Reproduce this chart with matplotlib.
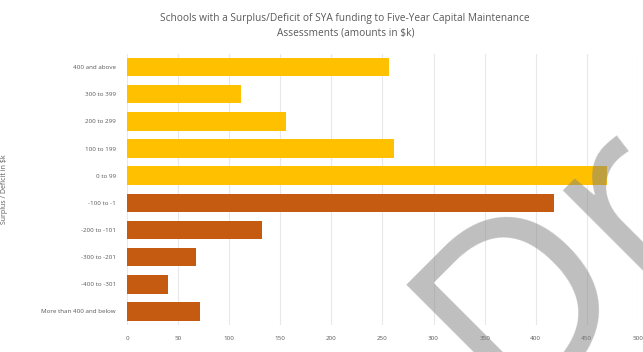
import matplotlib.pyplot as plt

# surplus/deficit bands, top to bottom
categories = ['400 and above', '300 to 399', '200 to 299', '100 to 199', '0 to 99',
              '-100 to -1', '-200 to -101', '-300 to -201', '-400 to -301',
              'More than 400 and below']
counts = [256, 112, 156, 261, 470, 418, 132, 68, 40, 71]
surplus = [True, True, True, True, True, False, False, False, False, False]
xticks = [0, 50, 100, 150, 200, 250, 300, 350, 400, 450, 500]

plt.rcParams['font.family'] = ['Open Sans', 'DejaVu Sans']

fig = plt.figure(figsize=(6.43, 3.52), dpi=100)
ax = fig.add_axes([0.1975, 0.0767, 0.7945, 0.7713])

colors = ['#FFC000' if s else '#C55A11' for s in surplus]
y = list(range(len(categories)))
ax.barh(y, counts, height=0.68, color=colors, zorder=3)
ax.set_ylim(len(categories) - 0.5, -0.5)
ax.set_yticks(y)
ax.set_yticklabels(categories, fontsize=4.5, color='#595959')
ax.set_xlim(0, 500)
ax.set_xticks(xticks)
ax.set_xticklabels([str(t) for t in xticks], fontsize=4.5, color='#595959')
ax.tick_params(length=0, pad=8)
ax.grid(axis='x', color='#E8E8E8', linewidth=0.8, zorder=0)
for s in ax.spines.values():
    s.set_visible(False)

ax.set_ylabel('Surplus / Deficit in $k', fontsize=5, color='#595959', labelpad=24)
ax.set_xlabel('Number of Schools', fontsize=5, color='#595959', labelpad=8)

fig.text(0.537, 0.948, 'Schools with a Surplus/Deficit of SYA funding to Five-Year Capital Maintenance',
         ha='center', va='center', fontsize=7.3, color='#595959')
fig.text(0.537, 0.905, 'Assessments (amounts in $k)',
         ha='center', va='center', fontsize=7.3, color='#595959')

# watermark
fig.text(0.79, -0.167, 'Draft', rotation=45, rotation_mode='anchor', ha='left', va='baseline',
         fontsize=180, color='#808080', alpha=0.5, zorder=10)

fig.savefig('out.png', dpi=100)
